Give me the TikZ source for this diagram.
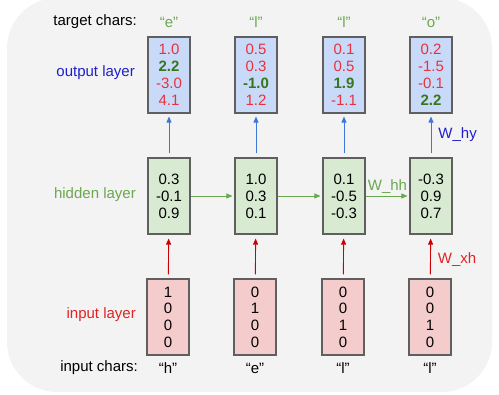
\documentclass[tikz,border=0pt]{standalone}
\usepackage{fontspec}
\setmainfont{Liberation Sans}
\usepackage{tikz}
\usetikzlibrary{arrows.meta,positioning}

\definecolor{bgray}{HTML}{F3F3F3}
\definecolor{boxline}{HTML}{5F5F5F}
\definecolor{outfill}{HTML}{C9DAF8}
\definecolor{hidfill}{HTML}{D9EAD3}
\definecolor{inpfill}{HTML}{F4CCCC}
\definecolor{numred}{HTML}{E8313D}
\definecolor{numgreen}{HTML}{38761D}
\definecolor{lblblue}{HTML}{1F1FCC}
\definecolor{lblgreen}{HTML}{6AA84F}
\definecolor{lblred}{HTML}{E02424}
\definecolor{arrblue}{HTML}{3C78D8}
\definecolor{arrred}{HTML}{CC0000}

\newcommand{\hit}[1]{\textcolor{numgreen}{\textbf{#1}}}

\begin{document}
\begin{tikzpicture}[
    x=1pt, y=-1pt,
    font=\fontsize{15}{17}\selectfont,
    cell/.style={draw=boxline, line width=1.1pt, minimum width=42pt, minimum height=76pt, inner sep=0pt, align=center},
    outcell/.style={cell, fill=outfill, text=numred},
    hidcell/.style={cell, fill=hidfill},
    inpcell/.style={cell, fill=inpfill, font=\fontsize{15}{16.7}\selectfont},
    side/.style={anchor=east, inner sep=0pt},
    chr/.style={inner sep=0pt},
    uarr/.style={-{Triangle[length=6pt,width=5pt]}, arrblue, line width=0.9pt, shorten <=4pt, shorten >=3pt},
    rarr/.style={-{Triangle[length=6pt,width=5pt]}, arrred, line width=0.9pt, shorten <=4pt, shorten >=4pt},
    harr/.style={-{Triangle[length=6pt,width=5pt]}, lblgreen, line width=0.9pt, shorten >=2pt},
    wlbl/.style={inner sep=2pt},
    rlbl/.style={inner sep=0pt, right, xshift=7pt}
]
\useasboundingbox (0,0) rectangle (499,395);
\fill[bgray, rounded corners=50pt] (7,-2) rectangle (492,392);

% output layer
\node[outcell] (o1) at (169,75) {1.0\\\hit{2.2}\\-3.0\\4.1};
\node[outcell] (o2) at (256,75) {0.5\\0.3\\\hit{-1.0}\\1.2};
\node[outcell] (o3) at (344,75) {0.1\\0.5\\\hit{1.9}\\-1.1};
\node[outcell] (o4) at (431,75) {0.2\\-1.5\\-0.1\\\hit{2.2}};

% hidden layer
\node[hidcell] (h1) at (169,196) {0.3\\-0.1\\0.9};
\node[hidcell] (h2) at (256,196) {1.0\\0.3\\0.1};
\node[hidcell] (h3) at (344,196) {0.1\\-0.5\\-0.3};
\node[hidcell] (h4) at (431,196) {-0.3\\0.9\\0.7};

% input layer
\node[inpcell] (x1) at (168,317) {1\\0\\0\\0};
\node[inpcell] (x2) at (255,317) {0\\1\\0\\0};
\node[inpcell] (x3) at (343,317) {0\\0\\1\\0};
\node[inpcell] (x4) at (430,317) {0\\0\\1\\0};

% row labels
\node[side] (tgt) at (137,22) {target chars:};
\node[side, text=lblblue] (outl) at (135,73) {output layer};
\node[side, text=lblgreen] (hidl) at (136,195) {hidden layer};
\node[side, text=lblred] (inpl) at (136,315) {input layer};
\node[side] (inc) at (138,368) {input chars:};

% characters
\node[chr, text=lblgreen] (t1) at (169,22) {“e”};
\node[chr, text=lblgreen] (t2) at (256,22) {“l”};
\node[chr, text=lblgreen] (t3) at (344,22) {“l”};
\node[chr, text=lblgreen] (t4) at (431,22) {“o”};
\node[chr] (c1) at (168,368) {“h”};
\node[chr] (c2) at (255,368) {“e”};
\node[chr] (c3) at (343,368) {“l”};
\node[chr] (c4) at (430,368) {“l”};

% connections
\draw[uarr] (h1) -- (o1);
\draw[uarr] (h2) -- (o2);
\draw[uarr] (h3) -- (o3);
\draw[uarr] (h4) -- node[rlbl, yshift=1pt, text=lblblue] {W\_hy} (o4);
\draw[rarr] (x1) -- (h1);
\draw[rarr] (x2) -- (h2);
\draw[rarr] (x3) -- (h3);
\draw[rarr] (x4) -- node[rlbl, yshift=-3pt, text=lblred] {W\_xh} (h4);
\draw[harr] (h1) -- (h2);
\draw[harr] (h2) -- (h3);
\draw[harr] (h3) -- node[wlbl, above, text=lblgreen] {W\_hh} (h4);
\end{tikzpicture}
\end{document}
